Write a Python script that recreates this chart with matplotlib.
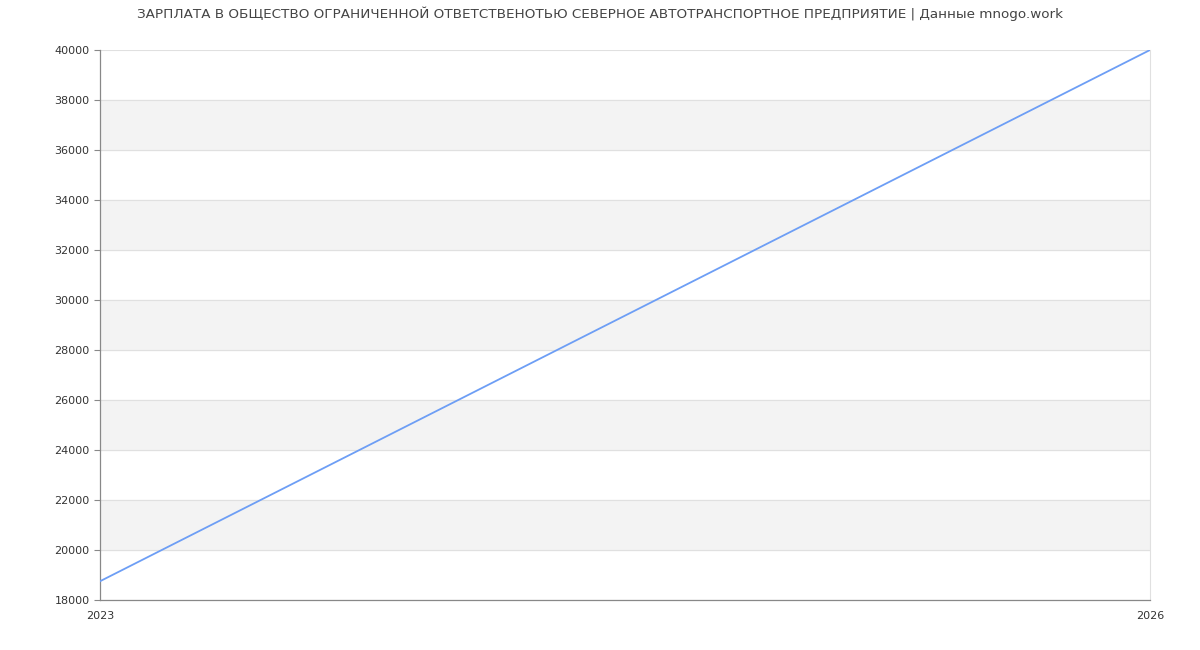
import matplotlib.pyplot as plt

years = [2023, 2026]
salary = [18750, 40000]
y_ticks = list(range(18000, 40001, 2000))

fig = plt.figure(figsize=(12, 6.5), dpi=100)
ax = fig.add_axes([100 / 1200, 50 / 650, 1050 / 1200, 550 / 650])

# alternating bands
for lo in range(20000, 40000, 4000):
    ax.axhspan(lo, lo + 2000, color='#f3f3f3', zorder=0)
for y in y_ticks:
    ax.axhline(y, color='#e0e0e0', linewidth=0.8, zorder=1)

ax.plot(years, salary, color='#6d9ef5', linewidth=1.3, zorder=3)

ax.set_xlim(2023, 2026)
ax.set_ylim(18000, 40000)
ax.set_yticks(y_ticks)
ax.set_yticklabels([str(v) for v in y_ticks])
ax.set_xticks(years)
ax.set_xticklabels([str(v) for v in years])
ax.tick_params(axis='y', labelsize=8, colors='#333333', length=4, width=0.8)
ax.tick_params(axis='y', color='#888888')
ax.tick_params(axis='x', labelsize=8, labelcolor='#333333', length=0, pad=8)

for side in ['left', 'bottom']:
    ax.spines[side].set_color('#888888')
    ax.spines[side].set_linewidth(0.9)
ax.spines['top'].set_visible(False)
ax.spines['right'].set_color('#e0e0e0')
ax.spines['right'].set_linewidth(0.8)

fig.text(0.5, 1 - 14 / 650,
         'ЗАРПЛАТА В ОБЩЕСТВО ОГРАНИЧЕННОЙ ОТВЕТСТВЕНОТЬЮ СЕВЕРНОЕ АВТОТРАНСПОРТНОЕ ПРЕДПРИЯТИЕ | Данные mnogo.work',
         ha='center', va='center', fontsize=9.7, color='#444444')

fig.savefig('out.png', dpi=100)
